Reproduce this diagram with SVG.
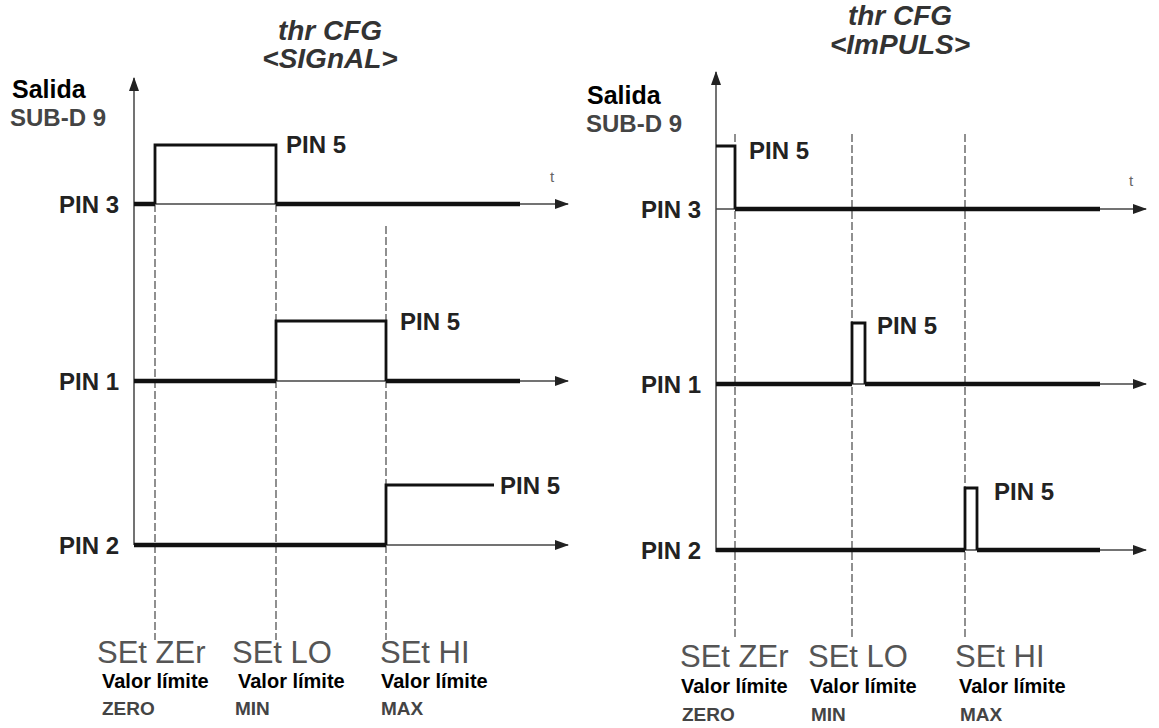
<svg xmlns="http://www.w3.org/2000/svg" width="1159" height="728" viewBox="0 0 1159 728">
<style>
.title{font-family:"Liberation Sans",Arial,sans-serif;font-style:italic;font-weight:bold;font-size:28px;fill:#333;text-anchor:middle}
.sal{font-family:"Liberation Sans",Arial,sans-serif;font-weight:bold;font-size:25px;fill:#000}
.sub{font-family:"Liberation Sans",Arial,sans-serif;font-weight:bold;font-size:24px;fill:#444}
.pin{font-family:"Liberation Sans",Arial,sans-serif;font-weight:bold;font-size:24px;fill:#222}
.pinr{font-family:"Liberation Sans",Arial,sans-serif;font-weight:bold;font-size:24px;fill:#222;text-anchor:end}
.set{font-family:"Liberation Sans",Arial,sans-serif;font-size:31px;fill:#555}
.val{font-family:"Liberation Sans",Arial,sans-serif;font-weight:bold;font-size:20px;fill:#000}
.lim{font-family:"Liberation Sans",Arial,sans-serif;font-weight:bold;font-size:19px;fill:#444}
.t{font-family:"Liberation Sans",Arial,sans-serif;font-size:15px;fill:#666}
.axis{stroke:#444;stroke-width:1.5;fill:none}
.sig{stroke:#111;stroke-width:2.8;fill:none}
.thick{stroke:#111;stroke-width:4.5;fill:none}
.dash{stroke:#555;stroke-width:1.3;stroke-dasharray:8 3;fill:none}
</style>
<defs>
<marker id="arr" markerWidth="14" markerHeight="10" refX="13" refY="5" orient="auto" markerUnits="userSpaceOnUse">
<path d="M0,0 L14,5 L0,10 z" fill="#222"/>
</marker>
</defs>

<g id="left-labels">
<text class="title" x="330" y="40">thr CFG</text>
<text class="title" x="330" y="68">&lt;SIGnAL&gt;</text>
<text class="sal" x="12" y="98">Salida</text>
<text class="sub" x="10" y="126">SUB-D 9</text>
<text class="pinr" x="119" y="213">PIN 3</text>
<text class="pinr" x="119" y="390">PIN 1</text>
<text class="pinr" x="119" y="554">PIN 2</text>
<text class="t" x="550" y="182">t</text>
<text class="pin" x="286" y="153">PIN 5</text>
<text class="pin" x="400" y="330">PIN 5</text>
<text class="pin" x="500" y="494">PIN 5</text>
<text class="set" x="97" y="663">SEt ZEr</text>
<text class="set" x="232" y="663">SEt LO</text>
<text class="set" x="380" y="663">SEt HI</text>
<text class="val" x="102" y="688">Valor límite</text>
<text class="val" x="238" y="688">Valor límite</text>
<text class="val" x="381" y="688">Valor límite</text>
<text class="lim" x="102" y="715">ZERO</text>
<text class="lim" x="235" y="715">MIN</text>
<text class="lim" x="381" y="715">MAX</text>
</g>

<g id="right-labels">
<text class="title" x="900" y="25">thr CFG</text>
<text class="title" x="900" y="54">&lt;ImPULS&gt;</text>
<text class="sal" x="587" y="104">Salida</text>
<text class="sub" x="586" y="132">SUB-D 9</text>
<text class="pinr" x="701" y="218">PIN 3</text>
<text class="pinr" x="701" y="393">PIN 1</text>
<text class="pinr" x="701" y="559">PIN 2</text>
<text class="t" x="1129" y="186">t</text>
<text class="pin" x="749" y="159">PIN 5</text>
<text class="pin" x="877" y="334">PIN 5</text>
<text class="pin" x="994" y="500">PIN 5</text>
<text class="set" x="680" y="667">SEt ZEr</text>
<text class="set" x="808" y="667">SEt LO</text>
<text class="set" x="955" y="667">SEt HI</text>
<text class="val" x="681" y="693">Valor límite</text>
<text class="val" x="810" y="693">Valor límite</text>
<text class="val" x="959" y="693">Valor límite</text>
<text class="lim" x="682" y="721">ZERO</text>
<text class="lim" x="811" y="721">MIN</text>
<text class="lim" x="960" y="721">MAX</text>
</g>

<g id="connectors">
<line class="axis" x1="134" y1="545" x2="134" y2="78" marker-end="url(#arr)"/>
<line class="axis" x1="134" y1="204" x2="568" y2="204" marker-end="url(#arr)"/>
<line class="axis" x1="134" y1="381" x2="568" y2="381" marker-end="url(#arr)"/>
<line class="axis" x1="134" y1="545" x2="568" y2="545" marker-end="url(#arr)"/>
<line class="dash" x1="155" y1="204" x2="155" y2="640"/>
<line class="dash" x1="276" y1="204" x2="276" y2="640"/>
<line class="dash" x1="386" y1="226" x2="386" y2="640"/>
<line class="thick" x1="134" y1="204" x2="155" y2="204"/>
<polyline class="sig" points="155,204 155,145 276,145 276,204"/>
<line class="thick" x1="276" y1="204" x2="520" y2="204"/>
<line class="thick" x1="134" y1="381" x2="276" y2="381"/>
<polyline class="sig" points="276,381 276,321 386,321 386,381"/>
<line class="thick" x1="386" y1="381" x2="520" y2="381"/>
<line class="thick" x1="134" y1="545" x2="386" y2="545"/>
<polyline class="sig" points="386,545 386,485 494,485"/>

<line class="axis" x1="716" y1="552" x2="716" y2="72" marker-end="url(#arr)"/>
<line class="axis" x1="716" y1="209" x2="1146" y2="209" marker-end="url(#arr)"/>
<line class="axis" x1="716" y1="384" x2="1146" y2="384" marker-end="url(#arr)"/>
<line class="axis" x1="716" y1="550" x2="1146" y2="550" marker-end="url(#arr)"/>
<line class="dash" x1="735" y1="134" x2="735" y2="640"/>
<line class="dash" x1="852" y1="134" x2="852" y2="640"/>
<line class="dash" x1="965" y1="134" x2="965" y2="640"/>
<polyline class="sig" points="716,146 735,146 735,209"/>
<line class="thick" x1="735" y1="209" x2="1100" y2="209"/>
<line class="thick" x1="716" y1="384" x2="852" y2="384"/>
<polyline class="sig" points="852,384 852,323 865,323 865,384"/>
<line class="thick" x1="865" y1="384" x2="1100" y2="384"/>
<line class="thick" x1="716" y1="550" x2="965" y2="550"/>
<polyline class="sig" points="965,550 965,488 977,488 977,550"/>
<line class="thick" x1="977" y1="550" x2="1100" y2="550"/>
</g>
</svg>
